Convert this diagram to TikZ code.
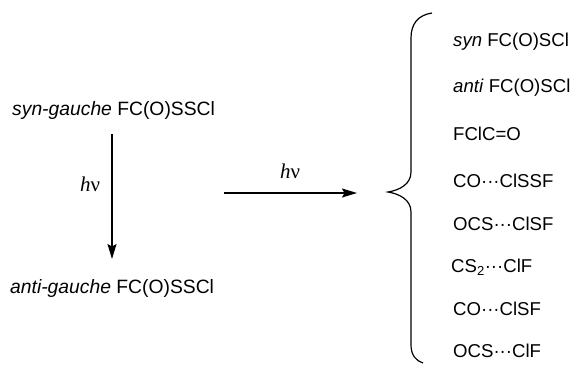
\documentclass[tikz,border=0pt]{standalone}
\usepackage{fontspec}
\setmainfont{Liberation Sans}
\newfontfamily\hvfont{Liberation Serif}
\usetikzlibrary{
		arrows.meta,
		positioning
	}
\tikzset{
		>={Stealth[length=15pt,width=9pt,inset=2.5pt]},
		spec/.style={anchor=base west, inner sep=0pt, font=\fontsize{18.6}{20}\selectfont},
		bigspec/.style={spec, font=\fontsize{19.3}{21}\selectfont},
		hvlabel/.style={inner sep=0pt, font=\fontsize{21}{22}\hvfont},
		rxn/.style={->, line width=1.3pt}
	}
\newcommand{\hv}{\textit{h}ν}

\begin{document}
\begin{tikzpicture}[x=1pt, y=-1pt]
            \useasboundingbox (0,0) rectangle (579,365);

            % left: isomerisation
            \node[bigspec] (syngauche) at (12,115) {\textit{syn-gauche} FC(O)SSCl};
            \node[bigspec] (antigauche) at (10,293) {\textit{anti-gauche} FC(O)SSCl};
            \coordinate (vtop) at (112,134);
            \coordinate (vbot) at (112,259);
            \draw[rxn] (vtop) -- (vbot);
            \node[hvlabel] (hvleft) at (90,184) {\hv};

            % middle arrow
            \coordinate (htail) at (224,193);
            \coordinate (hhead) at (357,193);
            \draw[rxn] (htail) -- (hhead);
            \node[hvlabel] (hvright) at (290,171) {\hv};

            % brace
            \draw[line width=1.2pt] (432,13) .. controls (418,15) and (411,24) .. (411,38) -- (411,172)
                .. controls (411,184) and (400,190) .. (388,192)
                .. controls (400,194) and (411,200) .. (411,212) -- (411,345)
                .. controls (411,355) and (416,361) .. (423,363);

            % products
            \node[spec] (p1) at (453,46) {\textit{syn} FC(O)SCl};
            \node[spec] (p2) at (453,92) {\textit{anti} FC(O)SCl};
            \node[spec] (p3) at (453,140) {FClC=O};
            \node[spec] (p4) at (453,187) {CO···ClSSF};
            \node[spec] (p5) at (453,230) {OCS···ClSF};
            \node[spec] (p6) at (451,272) {CS\textsubscript{2}···ClF};
            \node[spec] (p7) at (453,315) {CO···ClSF};
            \node[spec] (p8) at (453,357) {OCS···ClF};
        \end{tikzpicture}
\end{document}
